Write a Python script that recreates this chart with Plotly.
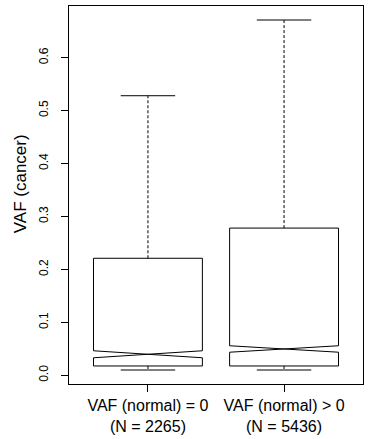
import plotly.graph_objects as go

# Data
categories = ["VAF (normal) = 0<br>(N = 2265)", "VAF (normal) > 0<br>(N = 5436)"]
positions = [1, 2]
q1 = [0.0176, 0.0176]
median = [0.0397, 0.0497]
q3 = [0.221, 0.278]
whisker_lo = [0.010, 0.010]
whisker_hi = [0.528, 0.671]
notch_half = [0.0066, 0.0061]
y_ticks = [0.0, 0.1, 0.2, 0.3, 0.4, 0.5, 0.6]
y_tick_text = ["0.0", "0.1", "0.2", "0.3", "0.4", "0.5", "0.6"]

box_width = 0.8
cap_half = box_width / 4

fig = go.Figure()

# dashed whiskers (drawn first so the box sits on top)
for p, lo, hi, a, b in zip(positions, whisker_lo, whisker_hi, q1, q3):
    fig.add_trace(go.Scatter(x=[p, p, None, p, p], y=[b, hi, None, a, lo], mode="lines",
                             line=dict(color="black", width=1, dash="3px,2px"),
                             hoverinfo="skip", showlegend=False))
    # caps
    fig.add_trace(go.Scatter(x=[p - cap_half, p + cap_half, None, p - cap_half, p + cap_half],
                             y=[hi, hi, None, lo, lo], mode="lines",
                             line=dict(color="black", width=1),
                             hoverinfo="skip", showlegend=False))

fig.add_trace(go.Box(
    x=positions, q1=q1, median=median, q3=q3,
    lowerfence=q1, upperfence=q3,
    notched=True, notchspan=notch_half, notchwidth=0.5,
    width=box_width, whiskerwidth=0,
    line=dict(color="black", width=1), fillcolor="white",
    boxpoints=False, showlegend=False, hoverinfo="skip"))

ymin, ymax = min(whisker_lo), max(whisker_hi)
pad = (ymax - ymin) * 0.04

fig.update_layout(
    width=368, height=439,
    margin=dict(l=69, r=5, t=6, b=55),
    paper_bgcolor="white", plot_bgcolor="white",
    font=dict(family="Liberation Sans, Arial, sans-serif", color="black"),
    xaxis=dict(range=[0.42, 2.58], tickvals=positions, ticktext=categories,
               ticks="outside", ticklen=7, tickcolor="black", tickwidth=1,
               showline=True, mirror=True, linecolor="black", linewidth=1,
               showgrid=False, zeroline=False, tickfont=dict(size=16),
               ticklabelstandoff=0),
    yaxis=dict(range=[ymin - pad, ymax + pad], tickvals=y_ticks, ticktext=y_tick_text,
               ticks="outside", ticklen=7, tickcolor="black", tickwidth=1,
               showline=True, mirror=True, linecolor="black", linewidth=1,
               showgrid=False, zeroline=False, tickangle=-90, tickfont=dict(size=12),
               ticklabelstandoff=8),
    annotations=[dict(text="VAF (cancer)", textangle=-90, xref="paper", yref="paper",
                      x=-0.166, y=0.529, xanchor="center", yanchor="middle",
                      showarrow=False, font=dict(size=17))],
)

fig.write_html("out.html")
